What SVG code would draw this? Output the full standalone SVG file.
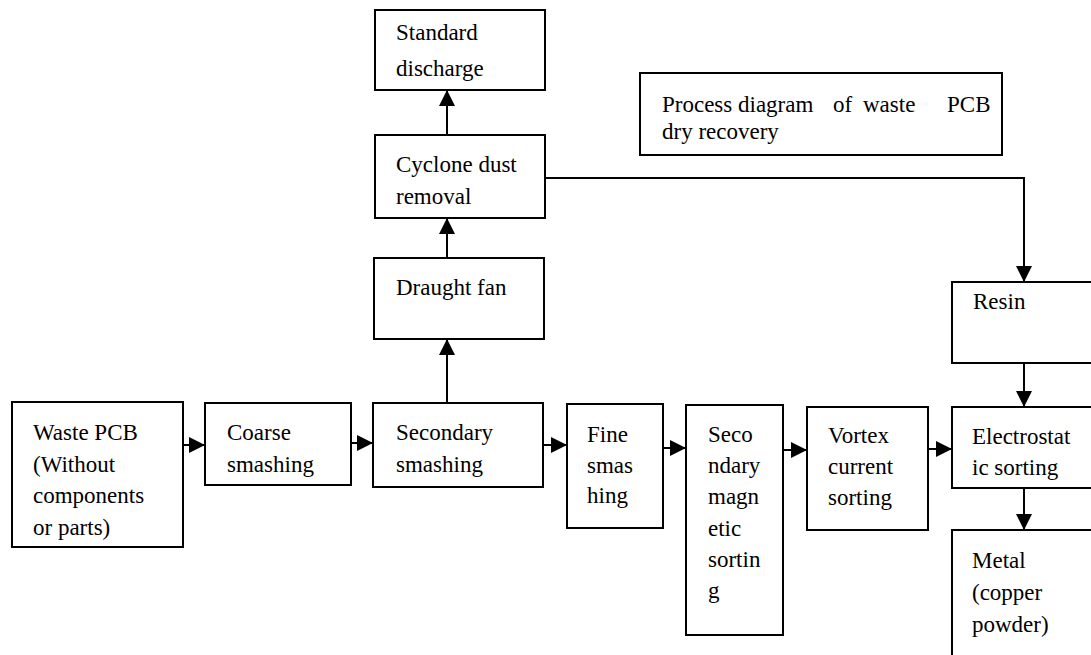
<svg xmlns="http://www.w3.org/2000/svg" width="1091" height="655" viewBox="0 0 1091 655">
<defs>
<style>
.box{fill:#fff;stroke:#000;stroke-width:2}
.con{fill:none;stroke:#000;stroke-width:2}
</style>
<marker id="ah" markerUnits="userSpaceOnUse" markerWidth="16" markerHeight="16" viewBox="0 0 16 16" refX="16" refY="8" orient="auto">
<path d="M0,0 L16,8 L0,16 z" fill="#000"/>
</marker>
</defs>
<rect width="1091" height="655" fill="#fff"/>
<g id="connectors">
<path class="con" d="M183,445 H205" marker-end="url(#ah)"/>
<path class="con" d="M351,443 H373" marker-end="url(#ah)"/>
<path class="con" d="M543,445 H567" marker-end="url(#ah)"/>
<path class="con" d="M663,448 H686" marker-end="url(#ah)"/>
<path class="con" d="M783,450 H807" marker-end="url(#ah)"/>
<path class="con" d="M928,449 H952" marker-end="url(#ah)"/>
<path class="con" d="M447,403 V339" marker-end="url(#ah)"/>
<path class="con" d="M447,258 V218" marker-end="url(#ah)"/>
<path class="con" d="M447,135 V90" marker-end="url(#ah)"/>
<path class="con" d="M545,178 H1024 V282" marker-end="url(#ah)"/>
<path class="con" d="M1024,363 V407" marker-end="url(#ah)"/>
<path class="con" d="M1024,488 V530" marker-end="url(#ah)"/>
</g>
<g font-family="Liberation Serif, serif" font-size="23" fill="#000">
<g id="waste-pcb">
<rect class="box" x="12" y="402" width="171" height="145"/>
<text x="33" y="440">Waste PCB</text>
<text x="33" y="472">(Without</text>
<text x="33" y="503">components</text>
<text x="33" y="535">or parts)</text>
</g>
<g id="coarse-smashing">
<rect class="box" x="205" y="403" width="146" height="82"/>
<text x="227" y="440">Coarse</text>
<text x="227" y="472">smashing</text>
</g>
<g id="secondary-smashing">
<rect class="box" x="373" y="403" width="170" height="84"/>
<text x="396" y="440">Secondary</text>
<text x="396" y="472">smashing</text>
</g>
<g id="fine-smashing">
<rect class="box" x="567" y="404" width="96" height="124"/>
<text x="587" y="442">Fine</text>
<text x="587" y="473">smas</text>
<text x="587" y="503">hing</text>
</g>
<g id="secondary-magnetic-sorting">
<rect class="box" x="686" y="405" width="97" height="230"/>
<text x="708" y="442">Seco</text>
<text x="708" y="473">ndary</text>
<text x="708" y="504">magn</text>
<text x="708" y="536">etic</text>
<text x="708" y="567">sortin</text>
<text x="708" y="598">g</text>
</g>
<g id="vortex-current-sorting">
<rect class="box" x="807" y="407" width="121" height="123"/>
<text x="828" y="443">Vortex</text>
<text x="828" y="474">current</text>
<text x="828" y="505">sorting</text>
</g>
<g id="electrostatic-sorting">
<rect class="box" x="952" y="407" width="145" height="81"/>
<text x="972" y="444">Electrostat</text>
<text x="972" y="475">ic sorting</text>
</g>
<g id="metal">
<rect class="box" x="952" y="530" width="145" height="135"/>
<text x="972" y="568">Metal</text>
<text x="972" y="600">(copper</text>
<text x="972" y="632">powder)</text>
</g>
<g id="resin">
<rect class="box" x="952" y="282" width="145" height="81"/>
<text x="973" y="309">Resin</text>
</g>
<g id="draught-fan">
<rect class="box" x="374" y="258" width="170" height="81"/>
<text x="396" y="295">Draught fan</text>
</g>
<g id="cyclone-dust-removal">
<rect class="box" x="375" y="135" width="170" height="83"/>
<text x="396" y="172">Cyclone dust</text>
<text x="396" y="204">removal</text>
</g>
<g id="standard-discharge">
<rect class="box" x="375" y="10" width="170" height="80"/>
<text x="396" y="40">Standard</text>
<text x="396" y="76">discharge</text>
</g>
<g id="title">
<rect class="box" x="640" y="73" width="362" height="82"/>
<text y="112"><tspan x="662">Process</tspan><tspan x="738">diagram</tspan><tspan x="833">of</tspan><tspan x="863">waste</tspan><tspan x="947">PCB</tspan></text>
<text x="662" y="139">dry recovery</text>
</g>
</g>
</svg>
